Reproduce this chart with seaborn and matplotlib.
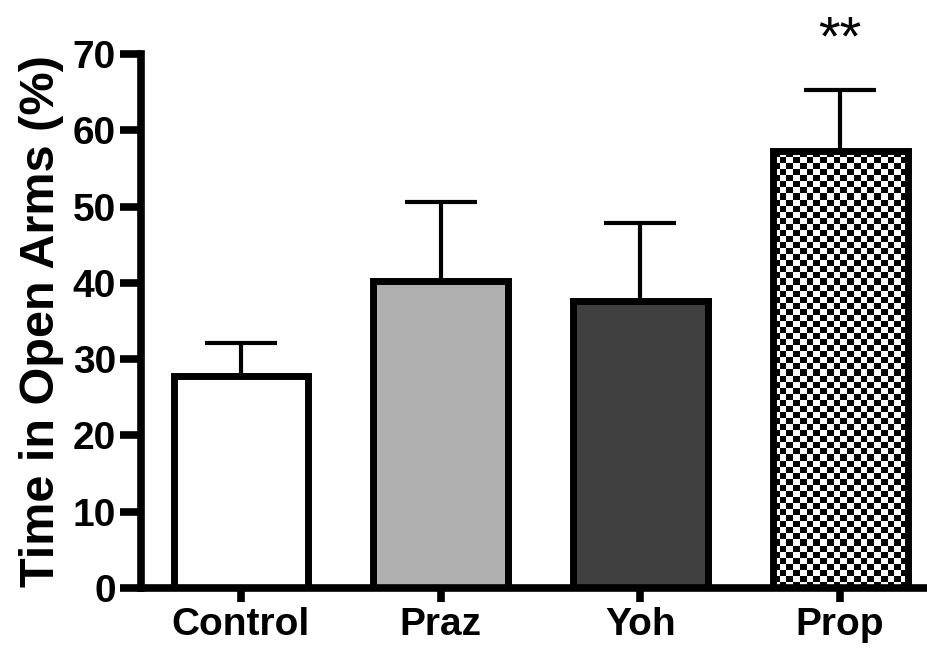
import numpy as np
import pandas as pd
import seaborn as sns
import matplotlib.pyplot as plt

sns.set_style("white")
plt.rcParams['font.family'] = ['Liberation Sans', 'DejaVu Sans']
plt.rcParams['text.color'] = 'black'
plt.rcParams['axes.labelcolor'] = 'black'
plt.rcParams['xtick.color'] = 'black'
plt.rcParams['ytick.color'] = 'black'

# Data
groups = ['Control', 'Praz', 'Yoh', 'Prop']
means = [27.8, 40.3, 37.6, 57.3]
sems = [4.3, 10.3, 10.2, 8.0]
fills = ['#ffffff', '#b0b0b0', '#404040', '#ffffff']
y_ticks = [0, 10, 20, 30, 40, 50, 60, 70]

df = pd.DataFrame({'group': groups, 'value': means})

fig = plt.figure(figsize=(9.28, 6.51), dpi=100)
ax = fig.add_axes([0.152, 0.097, 0.848, 0.82])

sns.barplot(data=df, x='group', y='value', hue='group', palette=fills,
            width=0.675, edgecolor='black', linewidth=5, legend=False,
            errorbar=None, ax=ax, zorder=2)

# upper-only error bars
ax.errorbar(range(len(groups)), means, yerr=[[0] * len(groups), sems],
            fmt='none', ecolor='black', elinewidth=3, capsize=26,
            capthick=3, zorder=1)

# checkerboard fill for Prop
bar = ax.patches[3]
bar.set_facecolor('none')
bx, by = bar.get_x(), bar.get_y()
bw, bh = bar.get_width(), bar.get_height()
ncol, nrow = 20, 72
checker = (np.add.outer(np.arange(nrow), np.arange(ncol)) % 2).astype(float)
im = ax.imshow(checker, cmap='gray', extent=[bx, bx + bw, by, by + bh],
               aspect='auto', interpolation='nearest', zorder=1.5)
im.set_clip_path(bar)

ax.text(3, 71.8, '**', ha='center', va='center', fontsize=40,
        fontweight='normal', clip_on=False)

ax.set_xlim(-0.5, 3.44)
ax.set_ylim(0, 70)
ax.set_yticks(y_ticks)
ax.set_xlabel('')
ax.set_ylabel('Time in Open Arms (%)', fontsize=35, fontweight='bold', labelpad=6)

for side in ['top', 'right']:
    ax.spines[side].set_visible(False)
for side in ['left', 'bottom']:
    ax.spines[side].set_linewidth(5.5)
    ax.spines[side].set_color('black')

ax.tick_params(axis='y', length=15, width=5.5, labelsize=28, pad=3, left=True)
ax.tick_params(axis='x', length=10, width=5.5, labelsize=28, pad=4, bottom=True)
for lab in ax.get_xticklabels() + ax.get_yticklabels():
    lab.set_fontweight('bold')

fig.savefig('out.png', dpi=100)
